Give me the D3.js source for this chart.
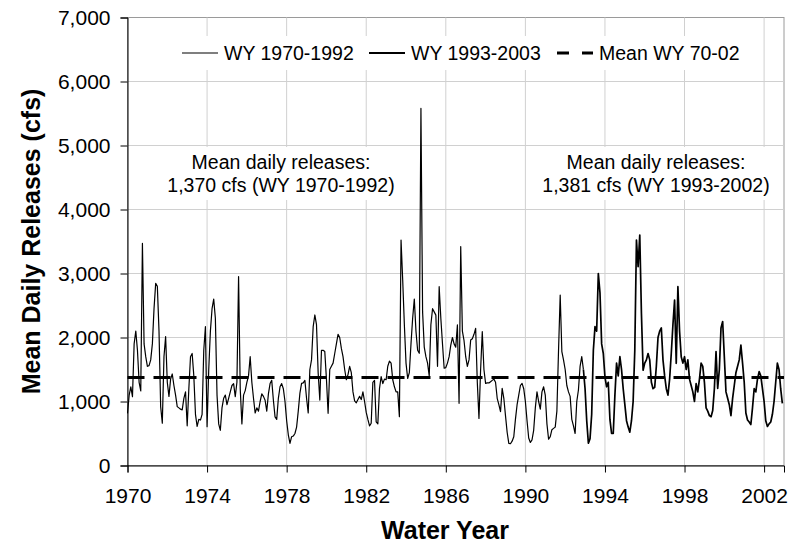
<!DOCTYPE html>
<html>
<head>
<meta charset="utf-8">
<script src="https://cdn.jsdelivr.net/npm/d3@7"></script>
<style>
  body { margin: 0; background: #fff; }
  svg { display: block; }
  text { font-family: "Liberation Sans", Arial, sans-serif; fill: #000; }
</style>
</head>
<body>
<div id="chart"></div>
<script>
// monthly mean daily releases (cfs), one row per water year (Oct-Sep)
var wyEarly = [
  815, 1100, 1230, 1075, 1900, 2100, 1800, 1300, 1166, 3470, 1900, 1700,
  1550, 1560, 1650, 1900, 2450, 2846, 2800, 2100, 920, 660, 1700, 2013,
  1300, 1080, 1350, 1430, 1250, 1100, 920, 900, 880, 870, 1050, 1150,
  620, 1200, 1700, 1750, 1400, 800, 610, 720, 710, 800, 1800, 2169,
  607, 1500, 2100, 2450, 2600, 2300, 1100, 650, 550, 900, 1050, 1100,
  950, 1050, 1150, 1250, 1280, 1075, 1300, 2950, 1200, 650, 1100, 1170,
  1300, 1400, 1700, 1300, 1050, 820, 900, 850, 1000, 1120, 1080, 1020,
  850, 1120, 1280, 1330, 1020, 760, 720, 1050, 1230, 1280, 1200, 1000,
  700, 480, 346, 450, 460, 500, 600, 850, 1130, 1283, 1290, 1330,
  1050, 820, 1500, 1650, 2169, 2352, 2200, 1450, 1023, 1800, 1800, 1780,
  1350, 815, 1500, 1550, 1600, 1750, 1900, 2050, 2000, 1830, 1700, 1500,
  1340, 1420, 1550, 1450, 1150, 1010, 980, 1030, 1080, 1030, 1150, 1000,
  830, 720, 620, 660, 1300, 1330, 680, 650, 1200, 1390, 1280, 1350,
  1340, 1550, 1630, 1600, 1340, 1230, 1150, 1150, 763, 3523, 2900, 2200,
  1600, 1360, 1450, 1900, 2300, 2600, 2100, 1800, 1753, 5580, 2400, 1850,
  1700, 1600, 1400, 2200, 2450, 2400, 2350, 1550, 2794, 2300, 1900, 1520,
  1530, 1600, 1700, 1880, 2000, 1900, 1850, 2196, 971, 3420, 2100, 1950,
  1700, 1550, 1650, 1960, 1980, 2050, 2143, 1300, 736, 1500, 2091, 1500,
  1283, 1290, 1290, 1310, 1330, 1350, 1300, 1050, 950, 841, 1205, 1050,
  780, 520, 346, 340, 380, 450, 720, 950, 1100, 1250, 1283, 1200,
  1000, 700, 430, 360, 400, 550, 900, 1150, 1000, 880, 1150, 1230,
  1100, 650, 410, 450, 560, 580, 600, 850, 1800, 2664, 1780, 1650,
  1500, 1250, 1150, 1080, 720, 620, 500, 1000, 1180, 1550, 1700, 1500
];
var wyLate = [
  1200, 700, 350, 420, 800, 1800, 2169, 2100, 2998, 2700, 1900, 1750,
  1380, 1230, 1300, 720, 500, 500, 1100, 1600, 1400, 1700, 1500, 1200,
  950, 700, 600, 520, 700, 1000, 1800, 3523, 3106, 3601, 2377, 1488,
  1600, 1650, 1750, 1650, 1300, 1200, 1220, 1550, 2000, 2100, 2150, 1650,
  1400, 1200, 1100, 1350, 1750, 2200, 2586, 1596, 2794, 2100, 1700, 1600,
  1700, 1500, 1650, 1350, 1250, 1150, 1000, 1280, 1150, 1350, 1600, 1550,
  1300, 900, 850, 780, 763, 860, 1200, 1779, 1205, 1500, 2150, 2250,
  1700, 1150, 1050, 950, 780, 1050, 1250, 1450, 1550, 1650, 1883, 1600,
  1300, 820, 711, 680, 640, 900, 1200, 1150, 1350, 1466, 1400, 1200,
  1000, 700, 610, 650, 680, 800, 1000, 1300, 1600, 1500, 1200, 970
];
var startYear = 1970;
var meanRelease = 1374;

var yearTicks = [1970, 1974, 1978, 1982, 1986, 1990, 1994, 1998, 2002];
var releaseTicks = [0, 1000, 2000, 3000, 4000, 5000, 6000, 7000];
var legendLabels = ["WY 1970-1992", "WY 1993-2003", "Mean WY 70-02"];
var noteEarly = ["Mean daily releases:", "1,370 cfs (WY 1970-1992)"];
var noteLate = ["Mean daily releases:", "1,381 cfs (WY 1993-2002)"];

var W = 796, H = 550;
var margin = {top: 17.5, right: 12, bottom: 84.5, left: 127.5};

var svg = d3.select("#chart").append("svg")
    .attr("width", W)
    .attr("height", H);

var x = d3.scaleLinear().domain([1970, 2003]).range([margin.left, W - margin.right]);
var y = d3.scaleLinear().domain([0, 7000]).range([H - margin.bottom, margin.top]);

var early = wyEarly.map(function(v, i){ return {t: startYear + i / 12, v: v}; });
var late = wyLate.map(function(v, i){ return {t: startYear + (wyEarly.length + i) / 12, v: v}; });
late.unshift(early[early.length - 1]);

// plot frame + grid
svg.append("rect")
    .attr("x", x(1970)).attr("y", y(7000))
    .attr("width", x(2003) - x(1970)).attr("height", y(0) - y(7000))
    .attr("fill", "#fff").attr("stroke", "#9a9a9a").attr("stroke-width", 1);

svg.append("g").selectAll("line")
    .data(releaseTicks.slice(1, -1))
    .enter().append("line")
    .attr("x1", x(1970)).attr("x2", x(2003))
    .attr("y1", function(d){ return y(d); }).attr("y2", function(d){ return y(d); })
    .attr("stroke", "#d0d0d0");

svg.append("g").selectAll("line")
    .data(yearTicks.slice(1))
    .enter().append("line")
    .attr("y1", y(0)).attr("y2", y(7000))
    .attr("x1", function(d){ return x(d); }).attr("x2", function(d){ return x(d); })
    .attr("stroke", "#d0d0d0");

// boxes behind the legend and notes hide the grid
function whiteBox(g, padX, padTop, padBottom) {
  var b = g.node().getBBox();
  g.insert("rect", ":first-child")
    .attr("x", b.x - padX).attr("y", b.y - padTop)
    .attr("width", b.width + 2 * padX).attr("height", b.height + padTop + padBottom)
    .attr("fill", "#fff");
}

function note(lines, cx) {
  var g = svg.append("g");
  g.selectAll("text").data(lines).enter().append("text")
    .attr("x", cx)
    .attr("y", function(d, i){ return 169 + i * 23; })
    .attr("text-anchor", "middle")
    .attr("font-size", "19.5px")
    .text(function(d){ return d; });
  whiteBox(g, 6, 4, 4);
}
note(noteEarly, 281);
note(noteLate, 656);

// lines
var line = d3.line()
    .x(function(d){ return x(d.t); })
    .y(function(d){ return y(d.v); });

svg.append("path").datum(early)
    .attr("d", line).attr("fill", "none")
    .attr("stroke", "#000").attr("stroke-width", 1.2).attr("stroke-linejoin", "round");

svg.append("path").datum(late)
    .attr("d", line).attr("fill", "none")
    .attr("stroke", "#000").attr("stroke-width", 1.7).attr("stroke-linejoin", "round");

svg.append("line")
    .attr("x1", x(1970)).attr("x2", x(2003))
    .attr("y1", y(meanRelease)).attr("y2", y(meanRelease))
    .attr("stroke", "#000").attr("stroke-width", 3)
    .attr("stroke-dasharray", "17,9");

// legend
var lg = svg.append("g");
var legendX = [182, 369, 557];
var legendStyle = [{w: 1.2, dash: null}, {w: 2, dash: null}, {w: 3, dash: "12,13"}];
legendLabels.forEach(function(lab, i){
  lg.append("line")
    .attr("x1", legendX[i]).attr("x2", legendX[i] + 36)
    .attr("y1", 53).attr("y2", 53)
    .attr("stroke", "#000").attr("stroke-width", legendStyle[i].w)
    .attr("stroke-dasharray", legendStyle[i].dash);
  lg.append("text")
    .attr("x", legendX[i] + 42).attr("y", 60)
    .attr("font-size", "19.5px")
    .text(lab);
});
whiteBox(lg, 7, 6, 6);

// axes
var yAxis = svg.append("g")
    .attr("transform", "translate(" + x(1970) + ",0)")
    .call(d3.axisLeft(y).tickValues(releaseTicks).tickSize(7).tickPadding(10)
      .tickFormat(d3.format(",")));
var xAxis = svg.append("g")
    .attr("transform", "translate(0," + y(0) + ")")
    .call(d3.axisBottom(x).tickValues(yearTicks).tickSize(7).tickPadding(16)
      .tickFormat(d3.format("d")));

[yAxis, xAxis].forEach(function(a){
  a.select(".domain").attr("stroke", "#000");
  a.selectAll(".tick line").attr("stroke", "#000");
  a.selectAll("text").attr("font-size", "21px")
    .attr("font-family", "'Liberation Sans', Arial, sans-serif").attr("fill", "#000");
});

svg.append("text")
    .attr("transform", "translate(40," + (y(3500)) + ") rotate(-90)")
    .attr("text-anchor", "middle")
    .attr("font-size", "25px").attr("font-weight", "bold")
    .text("Mean Daily Releases (cfs)");

svg.append("text")
    .attr("x", 445).attr("y", 539)
    .attr("text-anchor", "middle")
    .attr("font-size", "25px").attr("font-weight", "bold")
    .text("Water Year");
</script>
</body>
</html>
